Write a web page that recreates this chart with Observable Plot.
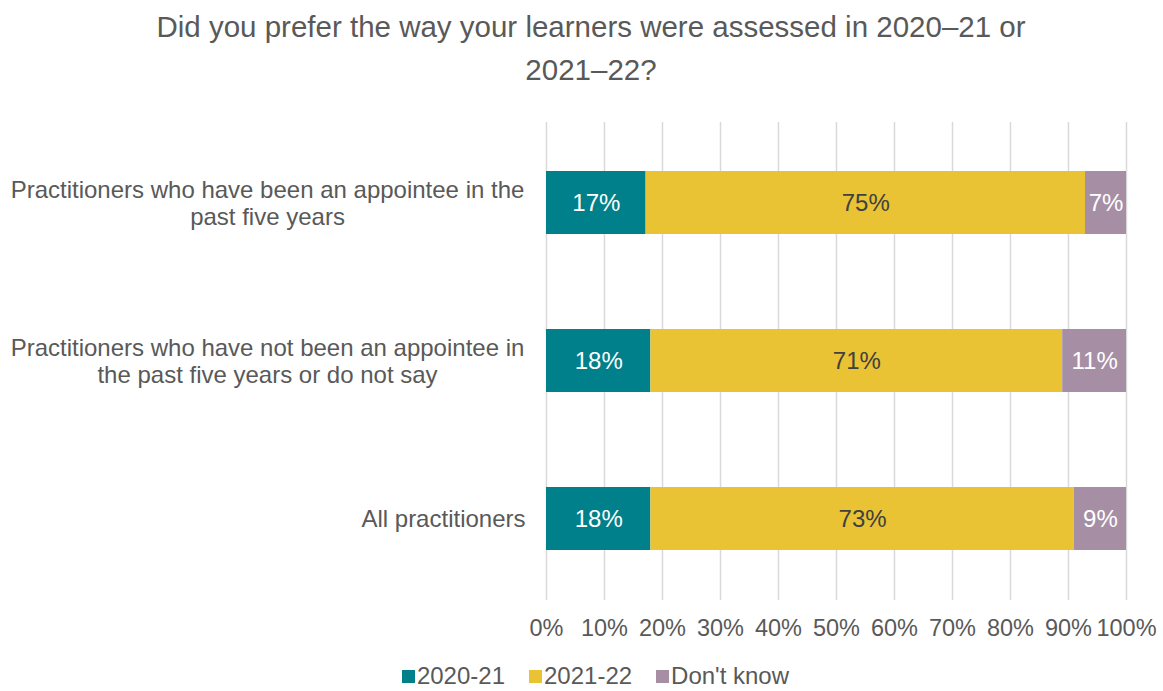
<!DOCTYPE html>
<html><head><meta charset="utf-8">
<script src="https://cdn.jsdelivr.net/npm/d3@7"></script>
<script src="https://cdn.jsdelivr.net/npm/@observablehq/plot@0.6"></script>
<style>
body{margin:0;background:#fff;font-family:"Liberation Sans",Arial,sans-serif;color:#595959;}
#title{width:1163px;text-align:center;font-size:29.5px;line-height:43px;padding-top:5px;padding-left:19px;box-sizing:border-box;white-space:nowrap;}
#legend{width:1163px;display:flex;justify-content:center;align-items:center;font-size:24px;line-height:40px;padding-left:28px;box-sizing:border-box;}
#legend .item{display:flex;align-items:center;margin:0 12px;}
#legend .sw{width:13px;height:13px;margin-right:2px;}
</style></head><body>
<div id="title">Did you prefer the way your learners were assessed in 2020–21 or<br>2021–22?</div>
<div id="chart"></div>
<div id="legend"></div>
<script>
const groups = [
  "Practitioners who have been an appointee in the past five years",
  "Practitioners who have not been an appointee in the past five years or do not say",
  "All practitioners"
];
const groupLines = [
  "Practitioners who have been an appointee in the\npast five years",
  "Practitioners who have not been an appointee in\nthe past five years or do not say",
  "All practitioners"
];
const series = ["2020-21", "2021-22", "Don't know"];
const colors = ["#00808b", "#e9c334", "#a68fa5"];
const values2020_21 = [17, 18, 18];
const values2021_22 = [75, 71, 73];
const valuesDontKnow = [7, 11, 9];
const xTicks = [0, 0.1, 0.2, 0.3, 0.4, 0.5, 0.6, 0.7, 0.8, 0.9, 1];

const seriesValues = [values2020_21, values2021_22, valuesDontKnow];
const data = [];
series.forEach((s, si) => groups.forEach((g, gi) => data.push({series: s, group: g, value: seriesValues[si][gi]})));
const labelOf = new Map(groups.map((g, i) => [g, groupLines[i]]));
const multi = groups.filter((g, i) => groupLines[i].includes("\n"));
const single = groups.filter((g, i) => !groupLines[i].includes("\n"));

const stackOpts = {x: "value", y: "group", z: "series", offset: "normalize"};
const pct = d => d.value + "%";

const chart = Plot.plot({
  width: 1163,
  height: 565,
  marginLeft: 546,
  marginRight: 37,
  marginTop: 31,
  marginBottom: 56,
  style: {fontFamily: "'Liberation Sans', Arial, sans-serif", fontSize: "24px", color: "#595959", background: "#fff"},
  x: {domain: [0, 1], label: null},
  y: {domain: groups, paddingInner: 0.6, paddingOuter: 0.31, label: null},
  color: {domain: series, range: colors},
  marks: [
    Plot.gridX(xTicks, {stroke: "#d9d9d9", strokeOpacity: 1, strokeWidth: 1.5}),
    Plot.barX(data, Plot.stackX({...stackOpts, fill: "series"})),
    Plot.text(data, Plot.filter(d => d.series === "2021-22", Plot.stackX({...stackOpts, text: pct, fill: "#404040", fontSize: 24}))),
    Plot.text(data, Plot.filter(d => d.series !== "2021-22", Plot.stackX({...stackOpts, text: pct, fill: "white", fontSize: 24}))),
    Plot.axisX(xTicks, {tickSize: 0, tickPadding: 19, tickFormat: d3.format(".0%"), fontSize: 23.5, fill: "#595959", label: null}),
    Plot.axisY(multi, {tickSize: 0, tickPadding: 279, textAnchor: "middle", lineHeight: 1.125, tickFormat: d => labelOf.get(d), fontSize: 24, fill: "#595959", label: null}),
    Plot.axisY(single, {tickSize: 0, tickPadding: 21, textAnchor: "end", tickFormat: d => labelOf.get(d), fontSize: 24, fill: "#595959", label: null})
  ]
});
document.getElementById("chart").appendChild(chart);

const legend = document.getElementById("legend");
series.forEach((s, i) => {
  const item = document.createElement("div");
  item.className = "item";
  const sw = document.createElement("span");
  sw.className = "sw";
  sw.style.background = colors[i];
  const t = document.createElement("span");
  t.textContent = s;
  item.appendChild(sw); item.appendChild(t);
  legend.appendChild(item);
});
</script>
</body></html>
